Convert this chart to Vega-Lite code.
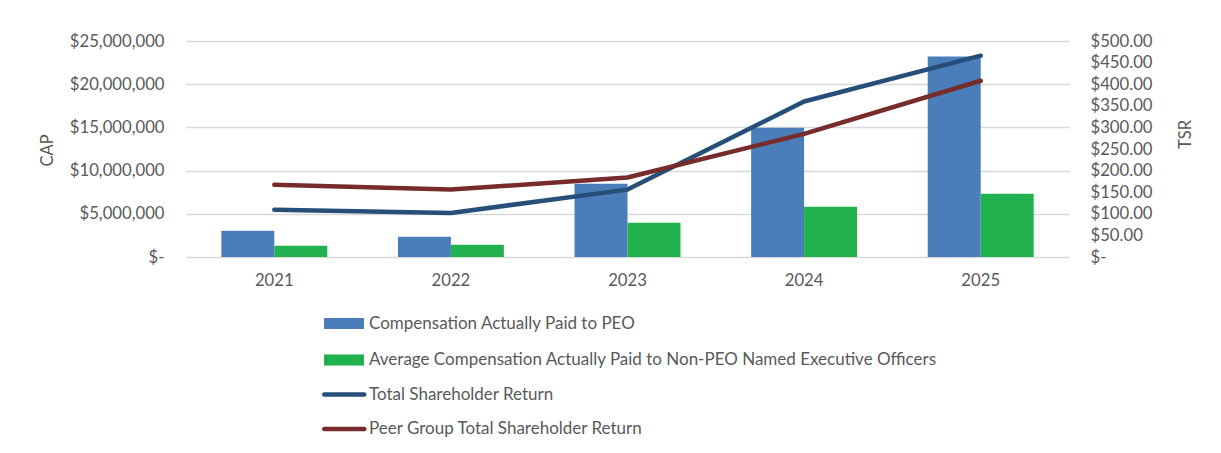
{
  "$schema": "https://vega.github.io/schema/vega-lite/v6.json",
  "width": 883,
  "height": 216,
  "autosize": {"type": "none"},
  "padding": {"left": 186, "top": 41, "right": 152, "bottom": 196},
  "background": "white",
  "config": {
    "view": {"stroke": null},
    "font": "Lato",
    "axis": {"labelFont": "Lato", "titleFont": "Lato", "labelColor": "#595959", "titleColor": "#595959", "labelFontSize": 16.7, "titleFontSize": 16.5, "titleFontWeight": "normal", "domain": false, "ticks": false},
    "legend": {"labelFont": "Lato", "labelFontSize": 17, "labelColor": "#595959", "padding": 0, "labelLimit": 0, "title": null}
  },
  "datasets": {
    "bars": [
      {"year": "2021", "series": "Compensation Actually Paid to PEO", "value": 3050000},
      {"year": "2021", "series": "Average Compensation Actually Paid to Non-PEO Named Executive Officers", "value": 1310000},
      {"year": "2022", "series": "Compensation Actually Paid to PEO", "value": 2350000},
      {"year": "2022", "series": "Average Compensation Actually Paid to Non-PEO Named Executive Officers", "value": 1420000},
      {"year": "2023", "series": "Compensation Actually Paid to PEO", "value": 8480000},
      {"year": "2023", "series": "Average Compensation Actually Paid to Non-PEO Named Executive Officers", "value": 3970000},
      {"year": "2024", "series": "Compensation Actually Paid to PEO", "value": 14970000},
      {"year": "2024", "series": "Average Compensation Actually Paid to Non-PEO Named Executive Officers", "value": 5820000},
      {"year": "2025", "series": "Compensation Actually Paid to PEO", "value": 23200000},
      {"year": "2025", "series": "Average Compensation Actually Paid to Non-PEO Named Executive Officers", "value": 7330000}
    ],
    "lines": [
      {"year": "2021", "series": "Total Shareholder Return", "value": 109.5},
      {"year": "2022", "series": "Total Shareholder Return", "value": 102},
      {"year": "2023", "series": "Total Shareholder Return", "value": 156},
      {"year": "2024", "series": "Total Shareholder Return", "value": 360},
      {"year": "2025", "series": "Total Shareholder Return", "value": 466},
      {"year": "2021", "series": "Peer Group Total Shareholder Return", "value": 167},
      {"year": "2022", "series": "Peer Group Total Shareholder Return", "value": 156},
      {"year": "2023", "series": "Peer Group Total Shareholder Return", "value": 184},
      {"year": "2024", "series": "Peer Group Total Shareholder Return", "value": 285},
      {"year": "2025", "series": "Peer Group Total Shareholder Return", "value": 408}
    ]
  },
  "layer": [
    {
      "data": {"name": "bars"},
      "mark": {"type": "bar"},
      "encoding": {
        "x": {"field": "year", "type": "nominal", "scale": {"paddingInner": 0.4, "paddingOuter": 0.2},
          "axis": {"title": null, "labelAngle": 0, "labelPadding": 15, "grid": false}},
        "xOffset": {"field": "series", "type": "nominal",
          "sort": ["Compensation Actually Paid to PEO", "Average Compensation Actually Paid to Non-PEO Named Executive Officers"],
          "scale": {"paddingInner": 0, "paddingOuter": 0}},
        "y": {"field": "value", "type": "quantitative", "scale": {"domain": [0, 25000000], "nice": false},
          "axis": {"orient": "left", "title": "CAP", "values": [0, 5000000, 10000000, 15000000, 20000000, 25000000],
            "labelExpr": "datum.value == 0 ? '$-' : '$' + format(datum.value, ',')",
            "labelPadding": 22, "grid": true, "gridColor": "#d9d9d9", "gridWidth": 1.6,
            "titleAngle": 270, "titleX": -139, "titleY": 109, "titleAlign": "center", "titleBaseline": "middle"}},
        "fill": {"field": "series", "type": "nominal",
          "scale": {"domain": ["Compensation Actually Paid to PEO", "Average Compensation Actually Paid to Non-PEO Named Executive Officers"], "range": ["#4a7ebb", "#21b14f"]},
          "legend": {"orient": "none", "legendX": 148, "legendY": 272.5, "direction": "vertical",
            "symbolType": "M-2,-0.55H2V0.55H-2Z", "symbolSize": 400, "symbolStrokeWidth": 0,
            "labelOffset": 15, "rowPadding": 18.5}}
      }
    },
    {
      "data": {"name": "lines"},
      "mark": {"type": "line", "strokeWidth": 4.5, "strokeCap": "round", "strokeJoin": "round"},
      "encoding": {
        "x": {"field": "year", "type": "nominal"},
        "y": {"field": "value", "type": "quantitative", "scale": {"domain": [0, 500], "nice": false},
          "axis": {"orient": "right", "title": "TSR", "values": [0, 50, 100, 150, 200, 250, 300, 350, 400, 450, 500],
            "labelExpr": "datum.value == 0 ? '$-' : '$' + format(datum.value, ',.2f')",
            "labelPadding": 21, "grid": false,
            "titleAngle": 270, "titleX": 116, "titleY": 93, "titleAlign": "center", "titleBaseline": "middle"}},
        "stroke": {"field": "series", "type": "nominal",
          "scale": {"domain": ["Total Shareholder Return", "Peer Group Total Shareholder Return"], "range": ["#264e78", "#772b2b"]},
          "legend": {"orient": "none", "legendX": 145.75, "legendY": 341, "direction": "vertical",
            "symbolType": "M-2,0H2", "symbolSize": 400, "symbolStrokeWidth": 4.5,
            "labelOffset": 12.25, "rowPadding": 12.5,
            "encode": {"symbols": {"update": {"strokeCap": {"value": "round"}}}}}}
      }
    }
  ],
  "resolve": {"scale": {"y": "independent"}}
}
